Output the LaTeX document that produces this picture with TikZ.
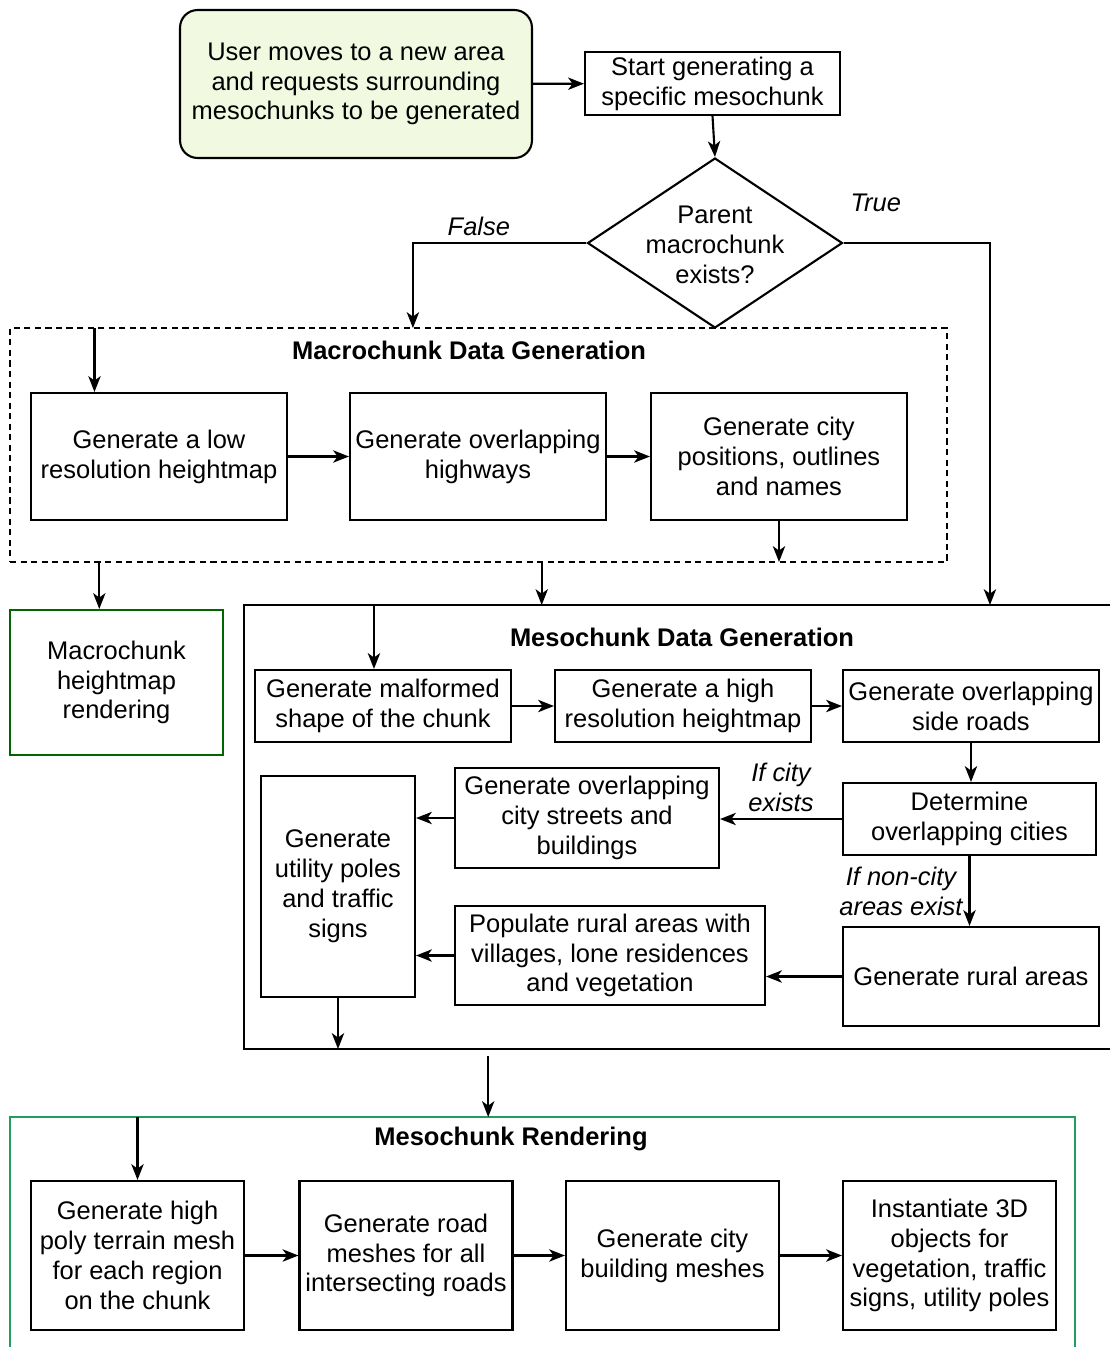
\documentclass[tikz,border=0pt]{standalone}
\usepackage{fontspec}
\setmainfont{Liberation Sans}
\usetikzlibrary{arrows.meta, positioning, shapes.geometric, calc}
\definecolor{userfill}{HTML}{F1FAE1}
\definecolor{hmgreen}{HTML}{006600}
\definecolor{rendgreen}{HTML}{1F9F5F}

\begin{document}
\begin{tikzpicture}[
    x=0.02cm, y=-0.02cm,
    every node/.style={font=\fontsize{14.5}{17}\selectfont},
    box/.style={
        draw, line width=1.2pt, inner sep=2pt, align=center,
        minimum width=5.12cm
    },
    userbox/.style={
        box, rounded corners=10pt, fill=userfill,
        minimum width=7.04cm, minimum height=2.96cm
    },
    decision/.style={
        draw, diamond, line width=1.2pt, inner sep=0pt,
        minimum width=5.1cm, minimum height=3.4cm
    },
    frame/.style={draw, inner sep=0pt, outer sep=0pt},
    title/.style={font=\fontsize{14.5}{17}\selectfont\bfseries},
    arr/.style={-{Stealth[length=9pt, width=7pt, inset=2.5pt]}, line width=1.2pt},
    lbl/.style={font=\fontsize{14.5}{17}\selectfont\itshape, align=center}
]
    \useasboundingbox (0,0) rectangle (1110,1347);

    % Request and decision
    \node[userbox] (user) at (356,84)
        {User moves to a new area\\and requests surrounding\\mesochunks to be generated};
    \node[box, minimum width=5.1cm, minimum height=1.26cm] (start) at (712.5,83.5)
        {Start generating a\\specific mesochunk};
    \node[decision] (exists) at (715,243)
        {\smash{\raisebox{-4.5pt}{\parbox[c]{3cm}{\centering Parent\\macrochunk\\exists?}}}};

    % Macrochunk container
    \node[frame, dash pattern=on 3.5pt off 2.5pt, line width=1pt,
          minimum width=18.74cm, minimum height=4.68cm] (macro) at (478.5,445) {};
    \node[title] (macrotitle) at (469,350) {Macrochunk Data Generation};
    \node[box, minimum height=2.54cm] (lowres) at (159,456.5)
        {Generate a low\\resolution heightmap};
    \node[box, minimum height=2.54cm] (highways) at (478,456.5)
        {Generate overlapping\\highways};
    \node[box, minimum height=2.54cm] (cities) at (779,456.5)
        {Generate city\\positions, outlines\\and names};

    \node[box, draw=hmgreen, minimum width=4.26cm, minimum height=2.9cm] (hmrender)
        at (116.5,682.5) {Macrochunk\\heightmap\\rendering};

    % Mesochunk container
    \node[frame, line width=1.2pt, minimum width=17.72cm, minimum height=8.88cm]
        (meso) at (687,827) {};
    \node[title] (mesotitle) at (682,637) {Mesochunk Data Generation};
    \node[box, minimum height=1.44cm] (malformed) at (383,706)
        {Generate malformed\\shape of the chunk};
    \node[box, minimum height=1.44cm] (highres) at (683,706)
        {Generate a high\\resolution heightmap};
    \node[box, minimum height=1.44cm] (sideroads) at (971,706)
        {Generate overlapping\\side roads};
    \node[box, minimum width=5.06cm, minimum height=1.44cm] (determine) at (969.5,819)
        {Determine\\overlapping cities};
    \node[box, minimum width=5.28cm, minimum height=2cm] (streets) at (587,818)
        {Generate overlapping\\city streets and\\buildings};
    \node[box, minimum width=3.08cm, minimum height=4.42cm] (utility) at (338,886.5)
        {Generate\\utility poles\\and traffic\\signs};
    \node[box, minimum height=1.98cm] (rural) at (971,976.5)
        {Generate rural areas};
    \node[box, minimum width=6.2cm, minimum height=1.98cm] (populate) at (610,955.5)
        {Populate rural areas with\\villages, lone residences\\and vegetation};

    % Rendering container
    \node[frame, draw=rendgreen, line width=1pt, minimum width=21.3cm, minimum height=5.06cm]
        (render) at (542.5,1243.5) {};
    \node[title] (rendtitle) at (511,1139) {Mesochunk Rendering};
    \node[box, minimum width=4.26cm, minimum height=2.98cm] (highpoly) at (137.5,1255.5)
        {Generate high\\poly terrain mesh\\for each region\\on the chunk};
    \node[box, minimum width=4.26cm, minimum height=2.98cm] (roadmesh) at (406,1255.5)
        {Generate road\\meshes for all\\intersecting roads};
    \node[box, minimum width=4.26cm, minimum height=2.98cm] (buildmesh) at (672.5,1255.5)
        {Generate city\\building meshes};
    \node[box, minimum width=4.26cm, minimum height=2.98cm] (objects) at (949.5,1255.5)
        {Instantiate 3D\\objects for\\vegetation, traffic\\signs, utility poles};

    % Entry points on the containers
    \coordinate (lowin) at ($(lowres.north west)!0.25!(lowres.north east)$);
    \coordinate (hmin) at ($(hmrender.north west)!0.42!(hmrender.north east)$);
    \coordinate (mesoin) at ($(meso.north west)!0.336!(meso.north east)$);
    \coordinate (malin) at ($(malformed.north west)!0.465!(malformed.north east)$);
    \coordinate (rendin) at ($(render.north west)!0.449!(render.north east)$);

    % Request flow
    \draw[arr] (user) -- (start);
    \draw[arr] (start.south) -- (exists.north);
    \draw[arr] (exists.west) -| ($(macro.north west)!0.43!(macro.north east)$)
        node[pos=0.31, above, lbl] {False};
    \draw[arr] (exists.east) -| ($(meso.north west)!0.842!(meso.north east)$)
        node[pos=0.11, above=14pt, lbl] {True};

    % Macrochunk flow
    \draw[arr] (lowin |- macro.north) -- (lowin);
    \draw[arr] (lowres) -- (highways);
    \draw[arr] (highways) -- (cities);
    \draw[arr] (cities.south) -- (cities.south |- macro.south);
    \draw[arr] (hmin |- macro.south) -- (hmin);
    \draw[arr] (mesoin |- macro.south) -- (mesoin);

    % Mesochunk flow
    \draw[arr] (malin |- meso.north) -- (malin);
    \draw[arr] (malformed) -- (highres);
    \draw[arr] (highres) -- (sideroads);
    \draw[arr] (sideroads.south) -- (sideroads.south |- determine.north);
    \draw[arr] (determine.west) -- (determine.west -| streets.east)
        node[midway, above, lbl] {If city\\exists};
    \draw[arr] (streets.west) -- (streets.west -| utility.east);
    \draw[arr] (determine.south) -- (determine.south |- rural.north)
        node[midway, left, lbl] {If non-city\\areas exist};
    \draw[arr] (rural.west) -- (rural.west -| populate.east);
    \draw[arr] (populate.west) -- (populate.west -| utility.east);
    \draw[arr] (utility.south) -- (utility.south |- meso.south);

    % Rendering flow
    \draw[arr, shorten <=4pt] (rendin |- meso.south) -- (rendin);
    \draw[arr] (highpoly.north |- render.north) -- (highpoly.north);
    \draw[arr] (highpoly) -- (roadmesh);
    \draw[arr] (roadmesh) -- (buildmesh);
    \draw[arr] (buildmesh) -- (objects);
\end{tikzpicture}
\end{document}
